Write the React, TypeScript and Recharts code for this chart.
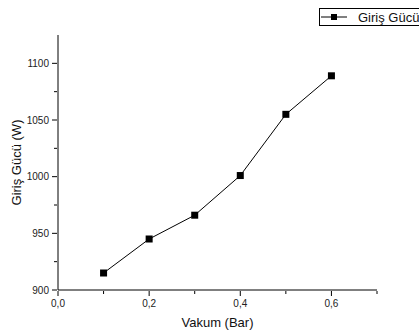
import { LineChart, Line, XAxis, YAxis } from 'recharts';

const vakum = [0.1, 0.2, 0.3, 0.4, 0.5, 0.6];
const girisGucu = [915, 945, 966, 1001, 1055, 1089];
const xTicks = [0, 0.1, 0.2, 0.3, 0.4, 0.5, 0.6, 0.7];
const xMajor = [0, 0.2, 0.4, 0.6];
const yTicks = [900, 925, 950, 975, 1000, 1025, 1050, 1075, 1100];
const yMajor = [900, 950, 1000, 1050, 1100];

const data = vakum.map((v, i) => ({ x: v, y: girisGucu[i] }));

const FONT = '"Liberation Sans", Arial, sans-serif';

const isMajor = (list: number[], v: number) => list.some((m) => Math.abs(m - v) < 1e-6);

function XTick({ x, y, payload }: any) {
  const major = isMajor(xMajor, payload.value);
  return (
    <g>
      <line x1={x} x2={x} y1={y} y2={y + (major ? 5 : 3)} stroke="#000" />
      {major && (
        <text x={x} y={y + 16} textAnchor="middle" fontSize={10} fontFamily={FONT} fill="#222">
          {payload.value.toFixed(1).replace('.', ',')}
        </text>
      )}
    </g>
  );
}

function YTick({ x, y, payload }: any) {
  const major = isMajor(yMajor, payload.value);
  return (
    <g>
      <line x1={x - (major ? 5 : 3)} x2={x} y1={y} y2={y} stroke="#000" />
      {major && (
        <text x={x - 8} y={y + 3.5} textAnchor="end" fontSize={10} fontFamily={FONT} fill="#222">
          {payload.value}
        </text>
      )}
    </g>
  );
}

function SquareDot({ cx, cy }: any) {
  return <rect x={cx - 3.5} y={cy - 3.5} width={7} height={7} fill="#000" />;
}

function LegendBox() {
  return (
    <div
      style={{
        position: 'absolute',
        left: 319,
        top: 8,
        width: 110,
        height: 16,
        border: '1px solid #000',
        display: 'flex',
        alignItems: 'center',
        fontFamily: FONT,
        fontSize: 13,
        color: '#111',
        background: '#fff',
        whiteSpace: 'nowrap',
      }}
    >
      <svg width={30} height={10} style={{ marginLeft: 1 }}>
        <line x1={0} x2={26} y1={5} y2={5} stroke="#000" />
        <rect x={10} y={2} width={6} height={6} fill="#000" />
      </svg>
      <span style={{ marginLeft: 7 }}>Giriş Gücü</span>
    </div>
  );
}

export default function App() {
  return (
    <div style={{ position: 'absolute', left: 0, top: 0, width: 419, height: 334, background: '#fff', overflow: 'hidden' }}>
      <LineChart width={419} height={334} data={data} margin={{ top: 35, right: 42, bottom: 0, left: 0 }}>
        <XAxis
          dataKey="x"
          type="number"
          domain={[0, 0.7]}
          ticks={xTicks}
          interval={0}
          tickSize={1}
          tickMargin={0}
          tickLine={false}
          axisLine={{ stroke: '#000' }}
          tick={<XTick />}
          height={44}
          label={{ value: 'Vakum (Bar)', position: 'insideBottom', offset: 7, fontSize: 13, fontFamily: FONT, fill: '#111' }}
        />
        <YAxis
          dataKey="y"
          type="number"
          domain={[900, 1125]}
          ticks={yTicks}
          interval={0}
          tickSize={1}
          tickMargin={0}
          tickLine={false}
          axisLine={{ stroke: '#000' }}
          tick={<YTick />}
          width={58}
          label={{ value: 'Giriş Gücü (W)', angle: -90, position: 'insideLeft', offset: 16, fontSize: 13, fontFamily: FONT, fill: '#111', style: { textAnchor: 'middle' } }}
        />
        <Line
          type="linear"
          dataKey="y"
          name="Giriş Gücü"
          stroke="#000"
          strokeWidth={1}
          dot={<SquareDot />}
          isAnimationActive={false}
        />
      </LineChart>
      <LegendBox />
    </div>
  );
}
